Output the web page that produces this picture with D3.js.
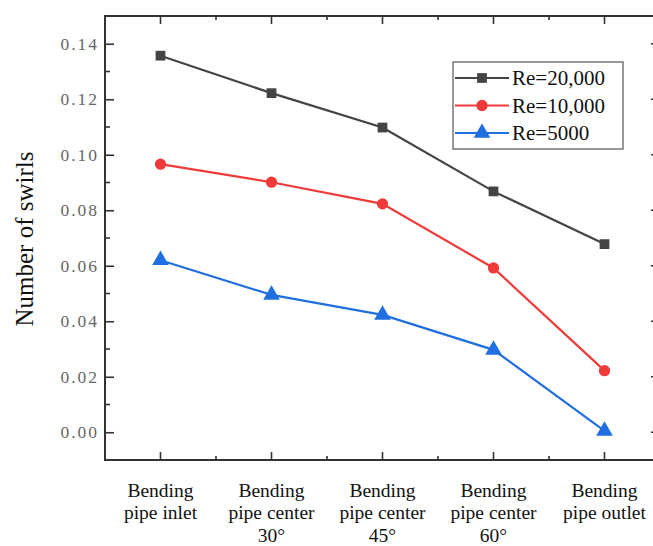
<!DOCTYPE html>
<html><head><meta charset="utf-8">
<script src="https://cdn.jsdelivr.net/npm/d3@7"></script>
<style>
html,body{margin:0;padding:0;background:#fff;overflow:hidden}
svg text{font-family:"Liberation Serif","Times New Roman",Times,serif}
</style>
</head><body>
<svg id="chart" width="653" height="546"></svg>
<script>
const categories = [
  ["Bending","pipe inlet"],
  ["Bending","pipe center","30°"],
  ["Bending","pipe center","45°"],
  ["Bending","pipe center","60°"],
  ["Bending","pipe outlet"]
];
const seriesNames = ["Re=20,000","Re=10,000","Re=5000"];
const re20000 = [0.1357, 0.1222, 0.1098, 0.0868, 0.0678];
const re10000 = [0.0966, 0.0901, 0.0823, 0.0592, 0.0222];
const re5000  = [0.0620, 0.0495, 0.0423, 0.0297, 0.0005];
const yTicks = [0.00, 0.02, 0.04, 0.06, 0.08, 0.10, 0.12, 0.14];
const yTitle = "Number of swirls";

const colors = ["#444444", "#f03a3a", "#1f6fe0"];
const symbols = [d3.symbolSquare, d3.symbolCircle, d3.symbolTriangle];
const symSizes = [95, 100, 120];
const series = [re20000, re10000, re5000];

const svg = d3.select("#chart");
const L = 105, R = 660, T = 16, B = 460;
const idx = categories.map((c,i)=>i);
const x = d3.scalePoint().domain(idx).range([L, R]).padding(0.5);
const y = d3.scaleLinear().domain([-0.01, 0.15]).range([B, T]);
const axisColor = "#333";
const serif = '"Liberation Serif","Times New Roman",Times,serif';

const yMinor = d3.range(-0.01, 0.1501, 0.02).map(v=>+v.toFixed(3));
const step = x.step();
const xMinor = idx.slice(0, -1).map(i => x(i) + step/2);

// left axis
const gl = svg.append("g").attr("transform", `translate(${L},0)`)
  .call(d3.axisLeft(y).tickValues(yTicks).tickSizeInner(-9).tickSizeOuter(0).tickPadding(10)
    .tickFormat(d3.format(".2f")));
gl.attr("font-family", serif);
gl.select(".domain").remove();
gl.selectAll(".tick line").attr("stroke", axisColor).attr("stroke-width", 1.6);
gl.selectAll(".tick text").style("font-family", serif)
  .attr("font-size", 17.5).attr("fill", "#666").attr("letter-spacing", "2px").attr("dx", 2).attr("x", -8);
gl.selectAll(".minor").data(yMinor).enter().append("line")
  .attr("x1", 0).attr("x2", 5).attr("y1", d=>y(d)).attr("y2", d=>y(d))
  .attr("stroke", axisColor).attr("stroke-width", 1.6);

// right axis ticks
const gr = svg.append("g").attr("transform", `translate(${R},0)`);
gr.selectAll("line.maj").data(yTicks).enter().append("line")
  .attr("x1", 0).attr("x2", -9).attr("y1", d=>y(d)).attr("y2", d=>y(d))
  .attr("stroke", axisColor).attr("stroke-width", 1.6);

// bottom axis
const gb = svg.append("g").attr("transform", `translate(0,${B})`);
gb.selectAll("line.maj").data(idx).enter().append("line")
  .attr("x1", d=>x(d)).attr("x2", d=>x(d)).attr("y1", 0).attr("y2", -8)
  .attr("stroke", axisColor).attr("stroke-width", 1.6);
gb.selectAll("line.min").data(xMinor).enter().append("line")
  .attr("x1", d=>d).attr("x2", d=>d).attr("y1", 0).attr("y2", -4)
  .attr("stroke", axisColor).attr("stroke-width", 1.6);
categories.forEach((lines, i) => {
  const t = svg.append("text").style("font-family", serif)
    .attr("font-size", 19.5).attr("fill", "#111").attr("text-anchor", "middle");
  const base = 496.5;
  lines.forEach((ln, j) => {
    t.append("tspan").attr("x", x(i)).attr("y", base + j*22.5).text(ln);
  });
});

// top axis ticks
const gt = svg.append("g").attr("transform", `translate(0,${T})`);
gt.selectAll("line.maj").data(idx).enter().append("line")
  .attr("x1", d=>x(d)).attr("x2", d=>x(d)).attr("y1", 0).attr("y2", 8)
  .attr("stroke", axisColor).attr("stroke-width", 1.6);
gt.selectAll("line.min").data(xMinor).enter().append("line")
  .attr("x1", d=>d).attr("x2", d=>d).attr("y1", 0).attr("y2", 4)
  .attr("stroke", axisColor).attr("stroke-width", 1.6);

// frame
svg.append("rect").attr("x", L).attr("y", T).attr("width", R-L).attr("height", B-T)
  .attr("fill", "none").attr("stroke", axisColor).attr("stroke-width", 2);

// y title
svg.append("text").attr("transform", `translate(33,239) rotate(-90)`)
  .attr("text-anchor", "middle").style("font-family", serif)
  .attr("font-size", 25).attr("fill", "#111").text(yTitle);

// lines and markers
const line = d3.line().x((d,i)=>x(i)).y(d=>y(d));
series.forEach((s, k) => {
  svg.append("path").datum(s).attr("d", line).attr("fill", "none")
    .attr("stroke", colors[k]).attr("stroke-width", 2.2);
  svg.selectAll(null).data(s).enter().append("path")
    .attr("d", d3.symbol().type(symbols[k]).size(symSizes[k]))
    .attr("transform", (d,i)=>`translate(${x(i)},${y(d)})`)
    .attr("fill", colors[k]);
});

// legend
const lg = svg.append("g");
lg.append("rect").attr("x", 453).attr("y", 62).attr("width", 170).attr("height", 87)
  .attr("fill", "#fff").attr("stroke", "#555").attr("stroke-width", 1.2);
seriesNames.forEach((n, k) => {
  const yy = 78 + k*27.5;
  lg.append("line").attr("x1", 455).attr("x2", 509).attr("y1", yy).attr("y2", yy)
    .attr("stroke", colors[k]).attr("stroke-width", 2.2);
  lg.append("path").attr("d", d3.symbol().type(symbols[k]).size(symSizes[k]))
    .attr("transform", `translate(482,${yy})`).attr("fill", colors[k]);
  lg.append("text").attr("x", 512).attr("y", yy + 7).style("font-family", serif)
    .attr("font-size", 21).attr("fill", "#111").text(n);
});
</script>
</body></html>
